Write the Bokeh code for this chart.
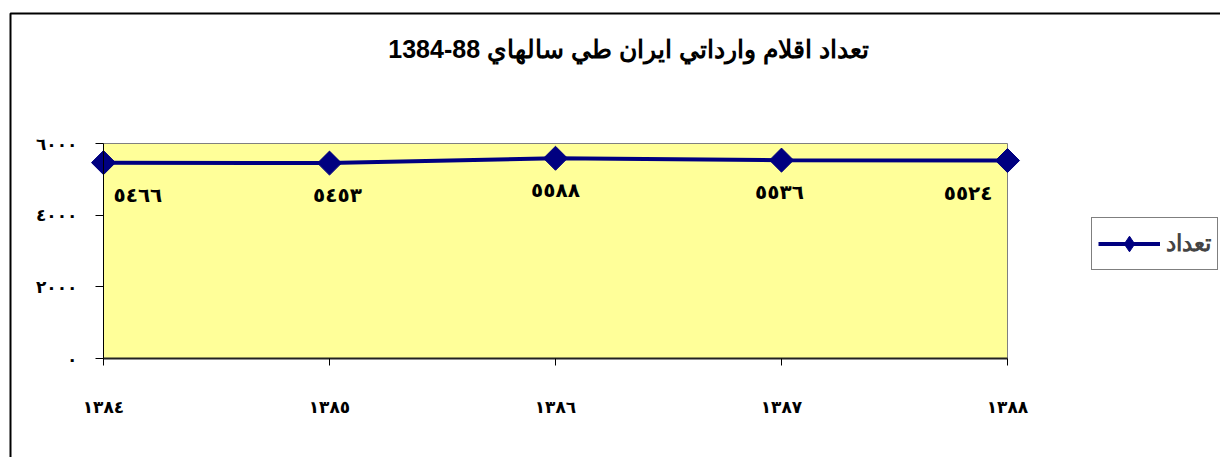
import numpy as np
from bokeh.plotting import figure
from bokeh.models import Range1d, FixedTicker, BoxAnnotation, Label, Legend, LegendItem
from bokeh.core.properties import value
from bokeh.embed import file_html
from bokeh.resources import INLINE

# ---- data ----
years = [1384, 1385, 1386, 1387, 1388]
year_labels = ["١٣٨٤", "١٣٨٥", "١٣٨٦", "١٣٨٧", "١٣٨٨"]
counts = [5466, 5453, 5588, 5536, 5524]
count_labels = ["٥٤٦٦", "٥٤٥٣", "٥٥٨٨", "٥٥٣٦", "٥٥٢٤"]
y_ticks = [0, 2000, 4000, 6000]
y_tick_labels = ["٠", "٢٠٠٠", "٤٠٠٠", "٦٠٠٠"]
title_text = "1384-88 تعداد اقلام وارداتي ايران طي سالهاي"
series_name = "تعداد"

# ---- layout (pixels) ----
W, H = 1220, 457
PX_LEFT, PX_RIGHT = 103, 1007      # plot-area left/right
PX_TOP, PX_BOTTOM = 143, 358       # plot-area top/bottom

x0, x1 = years[0], years[-1]
y0, y1 = y_ticks[0], y_ticks[-1]
xs = (PX_RIGHT - PX_LEFT) / (x1 - x0)
ys = (PX_BOTTOM - PX_TOP) / (y1 - y0)
x_range = Range1d(x0 - PX_LEFT / xs, x0 + (W - PX_LEFT) / xs)
y_range = Range1d(y0 - (H - PX_BOTTOM) / ys, y1 + PX_TOP / ys)

# ---- styles ----
NAVY = "#000080"
PLOT_BG = "#FFFF99"
label_aligns = ["left", "center", "center", "center", "right"]
label_xoffs = [10, 8, 0, -2, -15]
tick_font = "DejaVu Sans"

p = figure(width=W, height=H, x_range=x_range, y_range=y_range,
           output_backend="svg", toolbar_location=None,
           min_border_left=0, min_border_right=0, min_border_top=0, min_border_bottom=0)
p.title.visible = False
p.background_fill_color = "white"
p.border_fill_color = "white"
p.outline_line_color = None
p.xgrid.visible = False
p.ygrid.visible = False

# plot area (yellow box with grey border)
p.add_layout(BoxAnnotation(left=x0, right=x1, bottom=y0, top=y1,
                           fill_color=PLOT_BG, fill_alpha=1.0,
                           line_color="#808080", line_width=1, line_alpha=1.0,
                           level="underlay"))

# outer chart border (top and left visible)
p.add_layout(BoxAnnotation(left=10, right=W + 100, top=H - 13, bottom=-100,
                           left_units="screen", right_units="screen",
                           top_units="screen", bottom_units="screen",
                           fill_alpha=0, line_color="black", line_width=2, line_alpha=1.0,
                           level="overlay"))

# axes
xa = p.xaxis[0]
xa.fixed_location = y0
xa.bounds = (x0, x1)
xa.ticker = FixedTicker(ticks=years)
xa.major_label_overrides = {y: t for y, t in zip(years, year_labels)}
xa.axis_line_color = "#222222"
xa.axis_line_width = 2
xa.major_tick_out = 7
xa.major_tick_in = 0
xa.major_tick_line_color = "black"
xa.minor_tick_line_color = None
xa.major_label_standoff = 31
xa.major_label_text_font = tick_font
xa.major_label_text_font_style = "bold"
xa.major_label_text_font_size = "17px"
xa.major_label_text_color = "black"

ya = p.yaxis[0]
ya.fixed_location = x0
ya.bounds = (y0, y1)
ya.ticker = FixedTicker(ticks=y_ticks)
ya.major_label_overrides = {v: t for v, t in zip(y_ticks, y_tick_labels)}
ya.axis_line_color = "black"
ya.axis_line_width = 1
ya.major_tick_out = 8
ya.major_tick_in = 0
ya.major_tick_line_color = "black"
ya.minor_tick_line_color = None
ya.major_label_standoff = 18
ya.major_label_text_font = tick_font
ya.major_label_text_font_style = "bold"
ya.major_label_text_font_size = "17px"
ya.major_label_text_color = "black"

# series
line_r = p.line(years, counts, line_color=NAVY, line_width=4)
mark_r = p.scatter(years, counts, marker="square", angle=np.pi / 4, size=17,
                   fill_color=NAVY, line_color=NAVY)
# legend key marker (diamond shape, hidden in the plot itself)
legend_mark = p.scatter(years, counts, marker="diamond", fill_color=NAVY, line_color=NAVY,
                        visible=False)

# data labels
p.text(x=years, y=counts, text=count_labels, text_align=label_aligns, x_offset=label_xoffs,
       y_offset=32, text_baseline="middle", text_font=value(tick_font),
       text_font_style="bold", text_font_size="20px", text_color="black")

# title
p.add_layout(Label(x=628, y=H - 48, x_units="screen", y_units="screen", text=title_text,
                   text_align="center", text_baseline="middle",
                   text_font="Liberation Sans", text_font_style="bold",
                   text_font_size="25px", text_color="black"))

# legend
legend = Legend(items=[LegendItem(label=series_name, renderers=[line_r, legend_mark])],
                location=(1091, H - 270), orientation="vertical",
                border_line_color="black", border_line_width=1,
                background_fill_color="white", background_fill_alpha=1.0,
                padding=6, margin=0, glyph_width=62, glyph_height=39, label_height=39,
                label_standoff=6, label_text_font="Liberation Sans",
                label_text_font_style="bold", label_text_font_size="23px",
                label_text_baseline="middle")
p.add_layout(legend)

open("out.html", "w").write(file_html(p, INLINE))
